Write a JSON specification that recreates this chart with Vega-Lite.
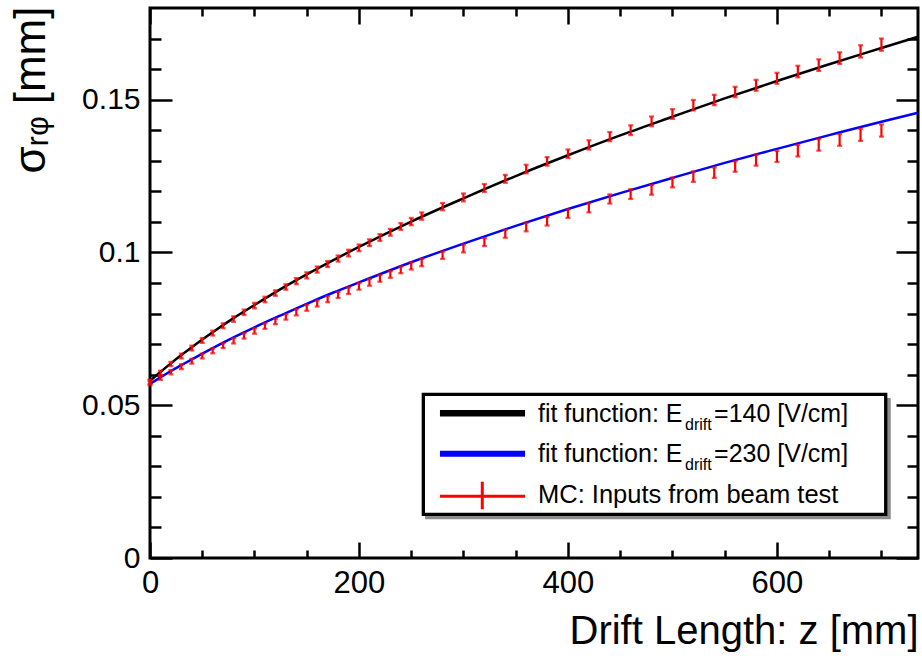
{
"$schema":"https://vega.github.io/schema/vega-lite/v6.json",
"width":768,"height":550,
"autosize":{"type":"none"},
"padding":{"left":150,"top":8,"right":4,"bottom":98},
"background":"white",
"config":{"view":{"stroke":"black","strokeWidth":3},"font":"Liberation Sans",
"axis":{"domain":false,"grid":false,"labelFont":"Liberation Sans","titleFont":"Liberation Sans","labelColor":"black","titleColor":"black","tickColor":"black","tickWidth":2.5,"labelFlush":false,"labelOverlap":false,"titleFontWeight":"normal"}},
"datasets":{
"fit":[
{"z":0,"E":"140","sigma":0.0580},{"z":10,"E":"140","sigma":0.0609},{"z":20,"E":"140","sigma":0.0637},{"z":30,"E":"140","sigma":0.0664},{"z":40,"E":"140","sigma":0.0690},{"z":60,"E":"140","sigma":0.0739},{"z":80,"E":"140","sigma":0.0785},{"z":100,"E":"140","sigma":0.0828},{"z":125,"E":"140","sigma":0.0880},{"z":150,"E":"140","sigma":0.0928},{"z":175,"E":"140","sigma":0.0974},{"z":200,"E":"140","sigma":0.1018},{"z":250,"E":"140","sigma":0.1101},{"z":300,"E":"140","sigma":0.1177},{"z":350,"E":"140","sigma":0.1250},{"z":400,"E":"140","sigma":0.1318},{"z":450,"E":"140","sigma":0.1383},{"z":500,"E":"140","sigma":0.1444},{"z":550,"E":"140","sigma":0.1504},{"z":600,"E":"140","sigma":0.1561},{"z":650,"E":"140","sigma":0.1616},{"z":700,"E":"140","sigma":0.1669},{"z":735,"E":"140","sigma":0.1706},
{"z":0,"E":"230","sigma":0.0570},{"z":10,"E":"230","sigma":0.0591},{"z":20,"E":"230","sigma":0.0612},{"z":30,"E":"230","sigma":0.0631},{"z":40,"E":"230","sigma":0.0650},{"z":60,"E":"230","sigma":0.0687},{"z":80,"E":"230","sigma":0.0722},{"z":100,"E":"230","sigma":0.0755},{"z":125,"E":"230","sigma":0.0794},{"z":150,"E":"230","sigma":0.0832},{"z":175,"E":"230","sigma":0.0868},{"z":200,"E":"230","sigma":0.0902},{"z":250,"E":"230","sigma":0.0968},{"z":300,"E":"230","sigma":0.1029},{"z":350,"E":"230","sigma":0.1087},{"z":400,"E":"230","sigma":0.1142},{"z":450,"E":"230","sigma":0.1194},{"z":500,"E":"230","sigma":0.1244},{"z":550,"E":"230","sigma":0.1293},{"z":600,"E":"230","sigma":0.1339},{"z":650,"E":"230","sigma":0.1384},{"z":700,"E":"230","sigma":0.1428},{"z":735,"E":"230","sigma":0.1457}
],
"mc":[
{"z":0,"E":"140","sigma":0.0577,"err":0.0007},{"z":10,"E":"140","sigma":0.0606,"err":0.0007},{"z":20,"E":"140","sigma":0.0635,"err":0.0007},{"z":30,"E":"140","sigma":0.0661,"err":0.0008},{"z":40,"E":"140","sigma":0.0687,"err":0.0008},{"z":50,"E":"140","sigma":0.0712,"err":0.0008},{"z":60,"E":"140","sigma":0.0736,"err":0.0008},{"z":70,"E":"140","sigma":0.0760,"err":0.0008},{"z":80,"E":"140","sigma":0.0782,"err":0.0009},{"z":90,"E":"140","sigma":0.0804,"err":0.0009},{"z":100,"E":"140","sigma":0.0826,"err":0.0009},{"z":110,"E":"140","sigma":0.0846,"err":0.0009},{"z":120,"E":"140","sigma":0.0867,"err":0.0009},{"z":130,"E":"140","sigma":0.0887,"err":0.0009},{"z":140,"E":"140","sigma":0.0906,"err":0.0010},{"z":150,"E":"140","sigma":0.0925,"err":0.0010},{"z":160,"E":"140","sigma":0.0944,"err":0.0010},{"z":170,"E":"140","sigma":0.0962,"err":0.0010},{"z":180,"E":"140","sigma":0.0980,"err":0.0010},{"z":190,"E":"140","sigma":0.0998,"err":0.0011},{"z":200,"E":"140","sigma":0.1015,"err":0.0011},{"z":210,"E":"140","sigma":0.1032,"err":0.0011},{"z":220,"E":"140","sigma":0.1049,"err":0.0011},{"z":230,"E":"140","sigma":0.1066,"err":0.0011},{"z":240,"E":"140","sigma":0.1085,"err":0.0011},{"z":250,"E":"140","sigma":0.1101,"err":0.0012},{"z":260,"E":"140","sigma":0.1119,"err":0.0012},{"z":280,"E":"140","sigma":0.1150,"err":0.0012},{"z":300,"E":"140","sigma":0.1180,"err":0.0013},{"z":320,"E":"140","sigma":0.1211,"err":0.0013},{"z":340,"E":"140","sigma":0.1241,"err":0.0013},{"z":360,"E":"140","sigma":0.1273,"err":0.0014},{"z":380,"E":"140","sigma":0.1298,"err":0.0014},{"z":400,"E":"140","sigma":0.1323,"err":0.0014},{"z":420,"E":"140","sigma":0.1352,"err":0.0015},{"z":440,"E":"140","sigma":0.1379,"err":0.0015},{"z":460,"E":"140","sigma":0.1400,"err":0.0016},{"z":480,"E":"140","sigma":0.1429,"err":0.0016},{"z":500,"E":"140","sigma":0.1453,"err":0.0016},{"z":520,"E":"140","sigma":0.1482,"err":0.0017},{"z":540,"E":"140","sigma":0.1499,"err":0.0017},{"z":560,"E":"140","sigma":0.1525,"err":0.0017},{"z":580,"E":"140","sigma":0.1547,"err":0.0018},{"z":600,"E":"140","sigma":0.1570,"err":0.0018},{"z":620,"E":"140","sigma":0.1592,"err":0.0019},{"z":640,"E":"140","sigma":0.1613,"err":0.0019},{"z":660,"E":"140","sigma":0.1636,"err":0.0019},{"z":680,"E":"140","sigma":0.1658,"err":0.0020},{"z":700,"E":"140","sigma":0.1680,"err":0.0020},
{"z":0,"E":"230","sigma":0.0573,"err":0.0007},{"z":10,"E":"230","sigma":0.0590,"err":0.0007},{"z":20,"E":"230","sigma":0.0608,"err":0.0007},{"z":30,"E":"230","sigma":0.0626,"err":0.0008},{"z":40,"E":"230","sigma":0.0644,"err":0.0008},{"z":50,"E":"230","sigma":0.0661,"err":0.0008},{"z":60,"E":"230","sigma":0.0678,"err":0.0008},{"z":70,"E":"230","sigma":0.0695,"err":0.0008},{"z":80,"E":"230","sigma":0.0711,"err":0.0009},{"z":90,"E":"230","sigma":0.0727,"err":0.0009},{"z":100,"E":"230","sigma":0.0743,"err":0.0009},{"z":110,"E":"230","sigma":0.0759,"err":0.0009},{"z":120,"E":"230","sigma":0.0774,"err":0.0009},{"z":130,"E":"230","sigma":0.0789,"err":0.0009},{"z":140,"E":"230","sigma":0.0804,"err":0.0010},{"z":150,"E":"230","sigma":0.0819,"err":0.0010},{"z":160,"E":"230","sigma":0.0833,"err":0.0010},{"z":170,"E":"230","sigma":0.0847,"err":0.0010},{"z":180,"E":"230","sigma":0.0861,"err":0.0010},{"z":190,"E":"230","sigma":0.0875,"err":0.0011},{"z":200,"E":"230","sigma":0.0889,"err":0.0011},{"z":210,"E":"230","sigma":0.0902,"err":0.0011},{"z":220,"E":"230","sigma":0.0915,"err":0.0011},{"z":230,"E":"230","sigma":0.0928,"err":0.0011},{"z":240,"E":"230","sigma":0.0943,"err":0.0011},{"z":250,"E":"230","sigma":0.0956,"err":0.0012},{"z":260,"E":"230","sigma":0.0967,"err":0.0012},{"z":280,"E":"230","sigma":0.0991,"err":0.0012},{"z":300,"E":"230","sigma":0.1013,"err":0.0013},{"z":320,"E":"230","sigma":0.1034,"err":0.0013},{"z":340,"E":"230","sigma":0.1061,"err":0.0013},{"z":360,"E":"230","sigma":0.1083,"err":0.0014},{"z":380,"E":"230","sigma":0.1102,"err":0.0014},{"z":400,"E":"230","sigma":0.1127,"err":0.0014},{"z":420,"E":"230","sigma":0.1146,"err":0.0015},{"z":440,"E":"230","sigma":0.1175,"err":0.0015},{"z":460,"E":"230","sigma":0.1191,"err":0.0016},{"z":480,"E":"230","sigma":0.1205,"err":0.0016},{"z":500,"E":"230","sigma":0.1229,"err":0.0016},{"z":520,"E":"230","sigma":0.1248,"err":0.0017},{"z":540,"E":"230","sigma":0.1261,"err":0.0017},{"z":560,"E":"230","sigma":0.1281,"err":0.0017},{"z":580,"E":"230","sigma":0.1302,"err":0.0018},{"z":600,"E":"230","sigma":0.1314,"err":0.0018},{"z":620,"E":"230","sigma":0.1333,"err":0.0019},{"z":640,"E":"230","sigma":0.1352,"err":0.0019},{"z":660,"E":"230","sigma":0.1368,"err":0.0019},{"z":680,"E":"230","sigma":0.1385,"err":0.0020},{"z":700,"E":"230","sigma":0.1399,"err":0.0020}
]
},
"resolve":{"axis":{"x":"independent","y":"independent"}},
"layer":[
{"data":{"name":"fit"},
 "mark":{"type":"line","strokeWidth":2.5,"interpolate":"monotone"},
 "encoding":{
  "x":{"field":"z","type":"quantitative","scale":{"domain":[0,735],"nice":false,"zero":false},
   "axis":{"orient":"bottom","values":[0,50,100,150,200,250,300,350,400,450,500,550,600,650,700],
    "tickSize":{"condition":{"test":"datum.value % 200 === 0","value":-16},"value":-8},
    "labelExpr":"datum.value % 200 === 0 ? datum.label : ''","labelFontSize":31,"labelPadding":26,"labelBaseline":"top",
    "title":"Drift Length: z [mm]","titleFontSize":40,"titleX":768,"titleY":85,"titleAlign":"right","titleBaseline":"alphabetic"}},
  "y":{"field":"sigma","type":"quantitative","scale":{"domain":[0,0.18],"nice":false,"zero":false},
   "axis":{"orient":"left","values":[0,0.01,0.02,0.03,0.04,0.05,0.06,0.07,0.08,0.09,0.1,0.11,0.12,0.13,0.14,0.15,0.16,0.17],
    "tickSize":{"condition":{"test":"round(datum.value*100) % 5 === 0","value":-22},"value":-11},
    "labelExpr":"round(datum.value*100) % 5 === 0 ? format(datum.value,'~g') : ''","labelFontSize":30,"labelPadding":32,
    "title":"σᵣᵩ [mm]","titleFontSize":44,"titleAngle":270,"titleX":-106,"titleY":-2,"titleAlign":"right","titleBaseline":"alphabetic"}},
  "color":{"field":"E","type":"nominal","scale":{"domain":["140","230"],"range":["black","#0000ff"]},"legend":null}
 }},
{"data":{"name":"mc"},
 "mark":{"type":"errorbar","color":"#ff0000","thickness":2.2,"ticks":{"size":5,"thickness":2.2,"color":"#ff0000"}},
 "encoding":{
  "x":{"field":"z","type":"quantitative",
   "axis":{"orient":"top","values":[0,50,100,150,200,250,300,350,400,450,500,550,600,650,700],
    "tickSize":{"condition":{"test":"datum.value % 200 === 0","value":-16},"value":-8},"labels":false,"title":null}},
  "y":{"field":"sigma","type":"quantitative",
   "axis":{"orient":"right","values":[0,0.01,0.02,0.03,0.04,0.05,0.06,0.07,0.08,0.09,0.1,0.11,0.12,0.13,0.14,0.15,0.16,0.17],
    "tickSize":{"condition":{"test":"round(datum.value*100) % 5 === 0","value":-22},"value":-11},"labels":false,"title":null}},
  "yError":{"field":"err"},
  "detail":{"field":"E","type":"nominal"}
 }},
{"data":{"values":[{}]},"mark":{"type":"rect","fill":"#8c8c8c"},
 "encoding":{"x":{"datum":263.2,"type":"quantitative","axis":null},"x2":{"datum":708.9},"y":{"datum":0.05236,"type":"quantitative","axis":null},"y2":{"datum":0.01267}}},
{"data":{"values":[{}]},"mark":{"type":"rect","fill":"white","stroke":"black","strokeWidth":3.3},
 "encoding":{"x":{"datum":261.6,"type":"quantitative","axis":null},"x2":{"datum":704.1},"y":{"datum":0.05357,"type":"quantitative","axis":null},"y2":{"datum":0.0143}}},
{"data":{"values":[{}]},"mark":{"type":"rule","color":"black","strokeWidth":6.5},
 "encoding":{"x":{"datum":277.5,"type":"quantitative","axis":null},"x2":{"datum":358.9},"y":{"datum":0.04736,"type":"quantitative","axis":null}}},
{"data":{"values":[{}]},"mark":{"type":"rule","color":"#0000ff","strokeWidth":6},
 "encoding":{"x":{"datum":277.5,"type":"quantitative","axis":null},"x2":{"datum":358.9},"y":{"datum":0.03414,"type":"quantitative","axis":null}}},
{"data":{"values":[{}]},"mark":{"type":"rule","color":"#ff0000","strokeWidth":3},
 "encoding":{"x":{"datum":277.5,"type":"quantitative","axis":null},"x2":{"datum":358.9},"y":{"datum":0.02019,"type":"quantitative","axis":null}}},
{"data":{"values":[{}]},"mark":{"type":"rule","color":"#ff0000","strokeWidth":3},
 "encoding":{"x":{"datum":318.0,"type":"quantitative","axis":null},"y":{"datum":0.02497,"type":"quantitative","axis":null},"y2":{"datum":0.01594}}},
{"data":{"values":[{}]},"mark":{"type":"text","align":"left","baseline":"alphabetic","fontSize":25,"font":"Liberation Sans","color":"black"},
 "encoding":{"x":{"datum":371.3,"type":"quantitative","axis":null},"y":{"datum":0.04461,"type":"quantitative","axis":null},"text":{"value":"fit function: E"}}},
{"data":{"values":[{}]},"mark":{"type":"text","align":"left","baseline":"alphabetic","fontSize":16,"font":"Liberation Sans","color":"black"},
 "encoding":{"x":{"datum":512.0,"type":"quantitative","axis":null},"y":{"datum":0.04189,"type":"quantitative","axis":null},"text":{"value":"drift"}}},
{"data":{"values":[{}]},"mark":{"type":"text","align":"left","baseline":"alphabetic","fontSize":25,"font":"Liberation Sans","color":"black"},
 "encoding":{"x":{"datum":539.8,"type":"quantitative","axis":null},"y":{"datum":0.04461,"type":"quantitative","axis":null},"text":{"value":"=140 [V/cm]"}}},
{"data":{"values":[{}]},"mark":{"type":"text","align":"left","baseline":"alphabetic","fontSize":25,"font":"Liberation Sans","color":"black"},
 "encoding":{"x":{"datum":371.3,"type":"quantitative","axis":null},"y":{"datum":0.03152,"type":"quantitative","axis":null},"text":{"value":"fit function: E"}}},
{"data":{"values":[{}]},"mark":{"type":"text","align":"left","baseline":"alphabetic","fontSize":16,"font":"Liberation Sans","color":"black"},
 "encoding":{"x":{"datum":512.0,"type":"quantitative","axis":null},"y":{"datum":0.0288,"type":"quantitative","axis":null},"text":{"value":"drift"}}},
{"data":{"values":[{}]},"mark":{"type":"text","align":"left","baseline":"alphabetic","fontSize":25,"font":"Liberation Sans","color":"black"},
 "encoding":{"x":{"datum":539.8,"type":"quantitative","axis":null},"y":{"datum":0.03152,"type":"quantitative","axis":null},"text":{"value":"=230 [V/cm]"}}},
{"data":{"values":[{}]},"mark":{"type":"text","align":"left","baseline":"alphabetic","fontSize":25.5,"font":"Liberation Sans","color":"black"},
 "encoding":{"x":{"datum":371.3,"type":"quantitative","axis":null},"y":{"datum":0.0181,"type":"quantitative","axis":null},"text":{"value":"MC: Inputs from beam test"}}}
]
}
